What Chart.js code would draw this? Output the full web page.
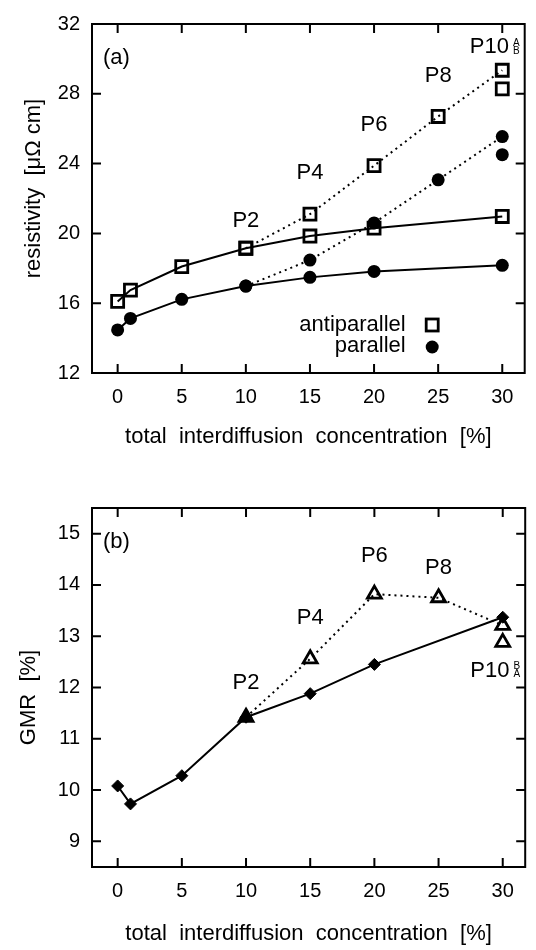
<!DOCTYPE html>
<html><head><meta charset="utf-8">
<script src="https://cdn.jsdelivr.net/npm/chart.js@4.4.1/dist/chart.umd.min.js"></script>
<style>
html,body{margin:0;padding:0;background:#fff;}
#wrap{position:relative;width:536px;height:950px;overflow:hidden;}
#ca,#cb{position:absolute;left:0;}
#ca{top:0;} #cb{top:475px;}
</style></head><body>
<div id="wrap">
<canvas id="ca" width="536" height="475"></canvas>
<canvas id="cb" width="536" height="475"></canvas>
</div>
<script>
// ---------- data ----------
const xTicks = [0, 5, 10, 15, 20, 25, 30];
const yTicksA = [12, 16, 20, 24, 28, 32];
const yTicksB = [9, 10, 11, 12, 13, 14, 15];

const concX = [0, 1, 5, 10, 15, 20, 30];
const antiparallel = [16.1, 16.75, 18.1, 19.15, 19.85, 20.3, 20.97];
const parallel = [14.47, 15.13, 16.22, 16.98, 17.48, 17.82, 18.17];
const gmr = [10.08, 9.73, 10.28, 11.42, 11.88, 12.45, 13.37];

const pX = [10, 15, 20, 25, 30];
const antiparallelP = [19.15, 21.1, 23.88, 26.7, 29.35];
const parallelP = [16.98, 18.47, 20.6, 23.07, 25.55];
const gmrP = [11.42, 12.56, 13.82, 13.75, 13.21];

const p10X = [30];
const antiparallelP10B = [28.28];
const parallelP10B = [24.51];
const gmrP10A = [12.88];

const pLabels = ['P2', 'P4', 'P6', 'P8', 'P10'];
const pLabelX = [10, 15, 20, 25, 29.0];
const pLabelYA = [20.73, 23.48, 26.19, 29.02, 30.66];
const pLabelYB = [12.08, 13.35, 14.56, 14.34, 12.33];

const legendLabels = ['antiparallel', 'parallel'];
const xTitle = 'total  interdiffusion  concentration  [%]';
const yTitleA = 'resistivity  [μΩ cm]';
const yTitleB = 'GMR  [%]';

// ---------- helpers ----------
const FONT = "'Liberation Sans', Arial, Helvetica, sans-serif";
const TXT = 22;
const pts = (xs, ys) => xs.map((x, i) => ({x: x, y: ys[i]}));

const framePlugin = {
  id: 'frame',
  afterDatasetsDraw(chart, args, o) {
    const ctx = chart.ctx, a = chart.chartArea, xs = chart.scales.x, ys = chart.scales.y;
    ctx.save();
    ctx.strokeStyle = '#000';
    ctx.lineWidth = 2;
    ctx.strokeRect(a.left, a.top, a.right - a.left, a.bottom - a.top);
    ctx.beginPath();
    const L = 9;
    xTicks.forEach(v => {
      const p = xs.getPixelForValue(v);
      ctx.moveTo(p, a.bottom); ctx.lineTo(p, a.bottom - L);
      ctx.moveTo(p, a.top); ctx.lineTo(p, a.top + L);
    });
    o.yTicks.forEach(v => {
      const p = ys.getPixelForValue(v);
      ctx.moveTo(a.left, p); ctx.lineTo(a.left + L, p);
      ctx.moveTo(a.right, p); ctx.lineTo(a.right - L, p);
    });
    ctx.stroke();

    ctx.fillStyle = '#000';
    ctx.font = TXT + 'px ' + FONT;
    ctx.textBaseline = 'middle';
    // panel label
    ctx.textAlign = 'left';
    ctx.fillText(o.panel, a.left + 11, a.top + 34);
    // P labels
    ctx.textAlign = 'center';
    pLabels.forEach((t, i) => {
      const px = xs.getPixelForValue(pLabelX[i]);
      const py = ys.getPixelForValue(o.labelY[i]);
      ctx.font = TXT + 'px ' + FONT;
      ctx.fillText(t, px, py);
      if (i === pLabels.length - 1) {
        ctx.font = '10px ' + FONT;
        ctx.fillText(o.sup[0], px + 27, py - 4.5);
        ctx.fillText(o.sup[1], px + 27, py + 3.5);
      }
    });
    // legend
    if (o.legend) {
      ctx.font = TXT + 'px ' + FONT;
      ctx.textAlign = 'right';
      const tx = a.right - 119, mx = a.right - 92.5;
      const y1 = a.bottom - 48, y2 = a.bottom - 26;
      ctx.fillText(legendLabels[0], tx, y1);
      ctx.fillText(legendLabels[1], tx, y2 - 1);
      ctx.lineWidth = 2.8;
      ctx.strokeRect(mx - 6, y1 - 6, 12, 12);
      ctx.beginPath();
      ctx.arc(mx, y2, 6.5, 0, Math.PI * 2);
      ctx.fill();
    }
    // y title
    ctx.save();
    ctx.font = TXT + 'px ' + FONT;
    ctx.textAlign = 'center';
    ctx.translate(o.yTitleX, (a.top + a.bottom) / 2 + o.yTitleDy);
    ctx.rotate(-Math.PI / 2);
    ctx.fillText(o.yTitle, 0, 0);
    ctx.restore();
    ctx.restore();
  }
};

function xScale(h, pb) {
  return {
    type: 'linear', min: -2, max: 31.75,
    grid: {display: false, drawTicks: false}, border: {display: false},
    ticks: {font: {family: FONT, size: 20}, color: '#000', padding: 12, maxRotation: 0, autoSkip: false},
    afterBuildTicks: s => { s.ticks = xTicks.map(v => ({value: v})); },
    afterFit: s => { s.height = h; },
    title: {display: true, text: xTitle, color: '#000', font: {family: FONT, size: TXT}, padding: {top: 0, bottom: pb}}
  };
}
function yScale(min, max, ticks) {
  return {
    type: 'linear', min: min, max: max,
    grid: {display: false, drawTicks: false}, border: {display: false},
    ticks: {font: {family: FONT, size: 20}, color: '#000', padding: 12, autoSkip: false},
    afterBuildTicks: s => { s.ticks = ticks.map(v => ({value: v})); },
    afterFit: s => { s.width = 92; }
  };
}
const dotted = {showLine: true, borderColor: '#000', borderWidth: 2, borderDash: [2, 4]};
const solid = {showLine: true, borderColor: '#000', borderWidth: 2};
const square = {pointStyle: 'rect', pointRadius: 8.5, pointBorderWidth: 2.8, pointBorderColor: '#000', pointBackgroundColor: 'rgba(0,0,0,0)'};
const circle = {pointStyle: 'circle', pointRadius: 6.5, pointBorderWidth: 0, pointBackgroundColor: '#000', pointBorderColor: '#000'};
const diamond = {pointStyle: 'rectRot', pointRadius: 6, pointBorderWidth: 1, pointBackgroundColor: '#000', pointBorderColor: '#000'};
const triangle = {pointStyle: 'triangle', pointRadius: 8, pointBorderWidth: 2.8, pointBorderColor: '#000'};

const common = {
  responsive: false, animation: false, devicePixelRatio: 1,
  events: [],
  plugins: {legend: {display: false}, tooltip: {enabled: false}}
};

new Chart(document.getElementById('ca'), {
  type: 'scatter',
  data: {datasets: [
    Object.assign({data: pts(pX, antiparallelP)}, dotted, square),
    Object.assign({data: pts(pX, parallelP)}, dotted, circle),
    Object.assign({data: pts(p10X, antiparallelP10B), showLine: false}, square),
    Object.assign({data: pts(p10X, parallelP10B), showLine: false}, circle),
    Object.assign({data: pts(concX, antiparallel)}, solid, square),
    Object.assign({data: pts(concX, parallel)}, solid, circle)
  ]},
  options: Object.assign({}, common, {
    layout: {padding: {top: 15, right: 9.5, left: 0, bottom: 0}},
    scales: {x: xScale(102, 25), y: yScale(12, 32, yTicksA)},
    plugins: Object.assign({}, common.plugins, {
      frame: {yTicks: yTicksA, panel: '(a)', labelY: pLabelYA, sup: ['A', 'B'], legend: true,
              yTitle: yTitleA, yTitleX: 34, yTitleDy: -10}
    })
  }),
  plugins: [framePlugin]
});

new Chart(document.getElementById('cb'), {
  type: 'scatter',
  data: {datasets: [
    Object.assign({data: pts(pX, gmrP)}, dotted, triangle,
      {pointBackgroundColor: gmrP.map((v, i) => i === 0 ? '#000' : 'rgba(0,0,0,0)')}),
    Object.assign({data: pts(p10X, gmrP10A), showLine: false}, triangle, {pointBackgroundColor: 'rgba(0,0,0,0)'}),
    Object.assign({data: pts(concX, gmr)}, solid, diamond)
  ]},
  options: Object.assign({}, common, {
    layout: {padding: {top: 33, right: 9.5, left: 0, bottom: 0}},
    scales: {x: xScale(83, 3), y: yScale(8.5, 15.5, yTicksB)},
    plugins: Object.assign({}, common.plugins, {
      frame: {yTicks: yTicksB, panel: '(b)', labelY: pLabelYB, sup: ['B', 'A'], legend: false,
              yTitle: yTitleB, yTitleX: 29, yTitleDy: 10}
    })
  }),
  plugins: [framePlugin]
});
</script>
</body></html>
